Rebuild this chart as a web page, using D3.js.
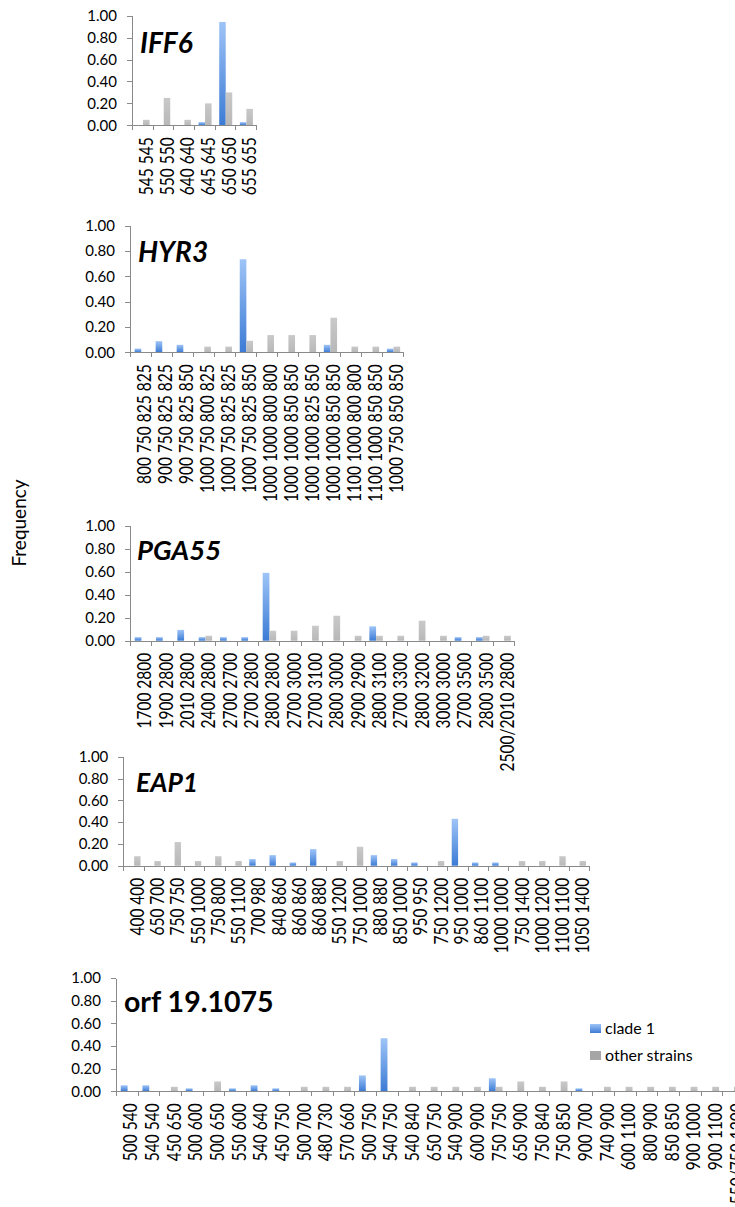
<!DOCTYPE html>
<html>
<head>
<meta charset="utf-8">
<script src="https://cdnjs.cloudflare.com/ajax/libs/d3/7.8.5/d3.min.js"></script>
<style>
	body { margin: 0; background: #fff; }
	svg { display: block; font-family: Lato, 'Open Sans', sans-serif; }
	.axis path, .axis line { stroke: #8a8a8a; shape-rendering: crispEdges; }
	.axis text { font-size: 15px; fill: #000; font-family: Lato, 'Open Sans', sans-serif; }
	.cat { font-size: 15.5px; fill: #000; }
	.title { fill: #000; font-weight: bold; }
</style>
</head>
<body>
<div class="container"></div>
<script>
var series = ['clade 1', 'other strains'];
var yTicks = [0, 0.2, 0.4, 0.6, 0.8, 1];

// IFF6
var iff6Labels = ['545 545', '550 550', '640 640', '645 645', '650 650', '655 655'];
var iff6Clade = [0, 0, 0, 0.029, 0.943, 0.029];
var iff6Other = [0.05, 0.25, 0.05, 0.20, 0.30, 0.15];

// HYR3
var hyr3Labels = ['800 750 825 825', '900 750 825 825', '900 750 825 850', '1000 750 800 825',
	'1000 750 825 825', '1000 750 825 850', '1000 1000 800 800', '1000 1000 850 850',
	'1000 1000 825 850', '1000 1000 850 850', '1100 1000 800 800', '1100 1000 850 850',
	'1000 750 850 850'];
var hyr3Clade = [0.029, 0.088, 0.059, 0, 0, 0.735, 0, 0, 0, 0.059, 0, 0, 0.029];
var hyr3Other = [0, 0, 0, 0.045, 0.045, 0.091, 0.136, 0.136, 0.136, 0.273, 0.045, 0.045, 0.045];

// PGA55
var pga55Labels = ['1700 2800', '1900 2800', '2010 2800', '2400 2800', '2700 2700', '2700 2800',
	'2800 2800', '2700 3000', '2700 3100', '2800 3000', '2900 2900', '2800 3100', '2700 3300',
	'2800 3200', '3000 3000', '2700 3500', '2800 3500', '2500/2010 2800'];
var pga55Clade = [0.031, 0.031, 0.094, 0.031, 0.031, 0.031, 0.59, 0, 0, 0, 0, 0.125, 0, 0, 0, 0.031, 0.031, 0];
var pga55Other = [0, 0, 0, 0.043, 0, 0, 0.087, 0.087, 0.13, 0.217, 0.043, 0.043, 0.043, 0.174, 0.043, 0, 0.043, 0.043];

// EAP1
var eap1Labels = ['400 400', '650 700', '750 750', '550 1000', '750 800', '550 1100', '700 980',
	'840 860', '860 860', '860 880', '550 1200', '750 1000', '880 880', '850 1000', '950 950',
	'750 1200', '950 1000', '860 1100', '1000 1000', '750 1400', '1000 1200', '1100 1100', '1050 1400'];
var eap1Clade = [0, 0, 0, 0, 0, 0, 0.061, 0.097, 0.03, 0.152, 0, 0, 0.097, 0.061, 0.03, 0, 0.43, 0.03, 0.03, 0, 0, 0, 0];
var eap1Other = [0.087, 0.043, 0.217, 0.043, 0.087, 0.043, 0, 0, 0, 0, 0.043, 0.174, 0, 0, 0, 0.043, 0, 0, 0, 0.043, 0.043, 0.087, 0.043];

// orf 19.1075
var orfLabels = ['500 540', '540 540', '450 650', '500 600', '500 650', '550 600', '540 640', '450 750',
	'500 700', '480 730', '570 660', '500 750', '540 750', '540 840', '650 750', '540 900', '600 900',
	'750 750', '650 900', '750 840', '750 850', '900 700', '740 900', '600 1100', '800 900', '850 850',
	'900 1000', '900 1100', '550/750 1200'];
var orfClade = [0.053, 0.053, 0, 0.026, 0, 0.026, 0.053, 0.026, 0, 0, 0, 0.14, 0.468, 0, 0, 0, 0,
	0.115, 0, 0, 0, 0.026, 0, 0, 0, 0, 0, 0, 0];
var orfOther = [0, 0, 0.04, 0, 0.087, 0, 0, 0, 0.04, 0.04, 0.04, 0, 0, 0.04, 0.04, 0.04, 0.04,
	0.04, 0.087, 0.04, 0.087, 0, 0.04, 0.04, 0.04, 0.04, 0.04, 0.04, 0.04];

var panels = [
	{ name: 'IFF6', italic: true, size: 28, labels: iff6Labels, clade: iff6Clade, other: iff6Other,
		left: 132, right: 256, top: 15.7, bottom: 125.3, tx: 140, ty: 53 },
	{ name: 'HYR3', italic: true, size: 28, labels: hyr3Labels, clade: hyr3Clade, other: hyr3Other,
		left: 130, right: 403.3, top: 225.7, bottom: 352.3, tx: 138, ty: 261.7 },
	{ name: 'PGA55', italic: true, size: 27.5, labels: pga55Labels, clade: pga55Clade, other: pga55Other,
		left: 130, right: 514, top: 525.7, bottom: 640.7, tx: 137, ty: 560 },
	{ name: 'EAP1', italic: true, size: 26.5, labels: eap1Labels, clade: eap1Clade, other: eap1Other,
		left: 123.3, right: 589, top: 756.7, bottom: 865.7, tx: 136, ty: 791.7 },
	{ name: 'orf 19.1075', italic: false, size: 28.5, labels: orfLabels, clade: orfClade, other: orfOther,
		left: 116, right: 744, top: 978, bottom: 1091.3, tx: 124, ty: 1011.7 }
];

var svg = d3.select('.container')
	.append('svg')
	.attr('width', 735)
	.attr('height', 1207);

var defs = svg.append('defs');

var blueGrad = defs.append('linearGradient')
	.attr('id', 'blue')
	.attr('x1', 0).attr('y1', 0)
	.attr('x2', 0).attr('y2', 1);
blueGrad.append('stop').attr('offset', '0%').attr('stop-color', '#9ec4f7');
blueGrad.append('stop').attr('offset', '100%').attr('stop-color', '#3c7bd5');

var greyGrad = defs.append('linearGradient')
	.attr('id', 'grey')
	.attr('x1', 0).attr('y1', 0)
	.attr('x2', 0).attr('y2', 1);
greyGrad.append('stop').attr('offset', '0%').attr('stop-color', '#c9c9c9');
greyGrad.append('stop').attr('offset', '100%').attr('stop-color', '#b8b8b8');

var fills = { 'clade 1': 'url(#blue)', 'other strains': 'url(#grey)' };

function drawPanel(p) {
	var g = svg.append('g'),
		n = p.labels.length,
		x, xs, edge, y, rows;

	// duplicate category names exist (HYR3), so the band domain is the index
	x = d3.scaleBand()
		.domain(d3.range(n))
		.range([p.left, p.right]);

	xs = d3.scaleBand()
		.domain(series)
		.range([x.bandwidth() * 0.22, x.bandwidth() * 0.85]);

	edge = d3.scaleLinear()
		.domain([0, n])
		.range([p.left, p.right]);

	y = d3.scaleLinear()
		.domain([0, 1])
		.range([p.bottom, p.top]);

	rows = [];
	p.labels.forEach(function (l, i) {
		rows.push({ i: i, s: 'clade 1', v: p.clade[i] });
		rows.push({ i: i, s: 'other strains', v: p.other[i] });
	});

	g.append('g')
		.selectAll('rect')
		.data(rows.filter(function (d) { return d.v > 0; }))
		.enter().append('rect')
			.attr('x', function (d) { return x(d.i) + xs(d.s); })
			.attr('y', function (d) { return y(d.v); })
			.attr('width', xs.bandwidth())
			.attr('height', function (d) { return y(0) - y(d.v); })
			.style('fill', function (d) { return fills[d.s]; });

	g.append('g')
		.classed('axis', true)
		.attr('transform', 'translate(' + p.left + ',0)')
		.call(d3.axisLeft(y)
			.tickValues(yTicks)
			.tickFormat(d3.format('.2f'))
			.tickSizeInner(5)
			.tickSizeOuter(0)
			.tickPadding(10));

	g.append('g')
		.classed('axis', true)
		.attr('transform', 'translate(0,' + p.bottom + ')')
		.call(d3.axisBottom(edge)
			.tickValues(d3.range(n + 1))
			.tickFormat('')
			.tickSizeInner(5)
			.tickSizeOuter(0));

	// the source picture is drawn with wide glyphs, hence the x stretch
	g.append('g')
		.selectAll('text')
		.data(p.labels)
		.enter().append('text')
			.classed('cat', true)
			.attr('transform', function (d, i) {
				return 'translate(' + (x(i) + x.bandwidth() / 2 + 3.5) + ',' + (p.bottom + 12) + ') scale(1.3,1) rotate(-90)';
			})
			.attr('text-anchor', 'end')
			.attr('dy', '0.35em')
			.text(function (d) { return d; });

	g.append('text')
		.classed('title', true)
		.attr('x', p.tx)
		.attr('y', p.ty)
		.style('font-size', p.size + 'px')
		.style('font-style', p.italic ? 'italic' : 'normal')
		.text(p.name);
}

panels.forEach(drawPanel);

svg.append('text')
	.attr('transform', 'translate(26,523) rotate(-90)')
	.attr('text-anchor', 'middle')
	.style('font-size', '19px')
	.text('Frequency');

var legend = svg.append('g')
	.selectAll('g')
	.data(series)
	.enter().append('g')
		.attr('transform', function (d, i) { return 'translate(590,' + (1024 + i * 27) + ')'; });

legend.append('rect')
	.attr('width', 11)
	.attr('height', 9)
	.style('fill', function (d, i) { return i === 0 ? 'url(#blue)' : '#a6a6a6'; });

legend.append('text')
	.attr('x', 15)
	.attr('y', 9.5)
	.style('font-size', '16px')
	.text(function (d) { return d; });
</script>
</body>
</html>
